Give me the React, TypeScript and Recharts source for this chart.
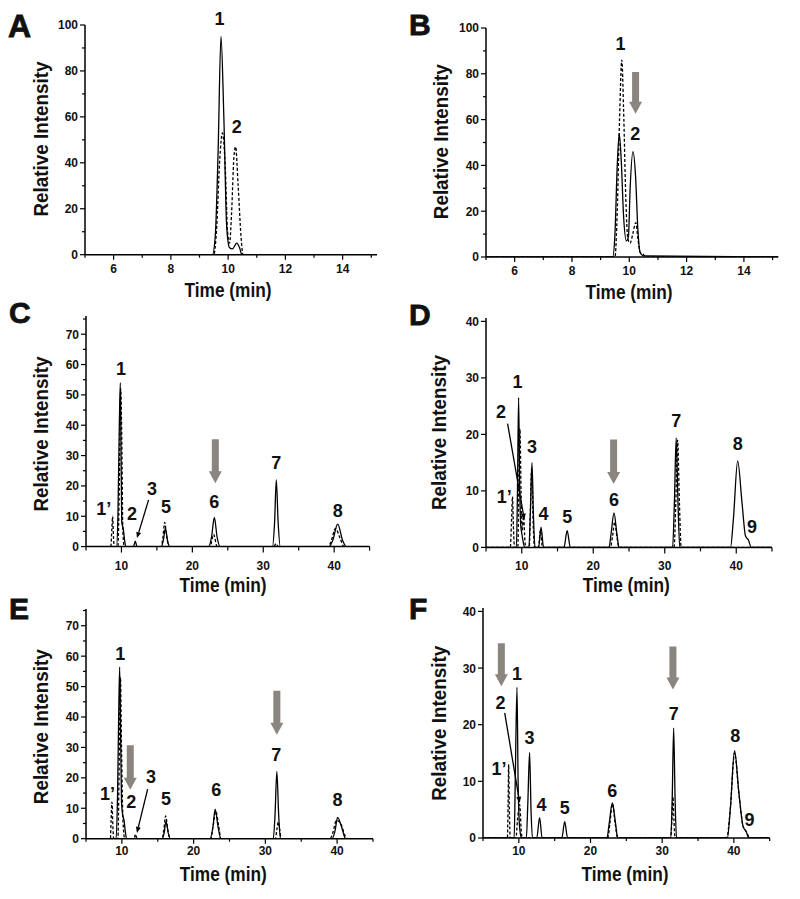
import React from 'react';
import { LineChart, Line, XAxis, YAxis, ReferenceDot, ReferenceLine } from 'recharts';

type Pt = [number, number];
type Lbl = { t: number; v: number; s: string };
type Seg = [number, number, number, number];

// ---------- Panel A ----------
const solidA: Pt[] = [[5,0],[9.45,0],[9.55,8],[9.65,45],[9.75,95],[9.85,60],[9.95,12],[10.05,3],[10.15,2.5],[10.3,5],[10.4,3],[10.48,0],[15.2,0]];
const dashedA: Pt[] = [[5,0],[9.5,0],[9.6,12],[9.7,40],[9.8,53],[9.9,38],[9.98,10],[10.05,5],[10.12,18],[10.2,42],[10.26,47],[10.35,30],[10.45,8],[10.52,0],[15.2,0]];
const labelsA: Lbl[] = [{ t: 9.7, v: 100, s: '1' }, { t: 10.3, v: 53, s: '2' }];

// ---------- Panel B ----------
const solidB: Pt[] = [[5,0],[9.42,0],[9.5,10],[9.58,40],[9.65,54],[9.72,42],[9.8,18],[9.9,7],[9.97,9],[10.03,30],[10.13,46],[10.22,35],[10.3,12],[10.38,2],[10.5,0.5],[15.2,0]];
const dashedB: Pt[] = [[5,0],[9.5,0],[9.58,20],[9.66,60],[9.74,86],[9.8,65],[9.88,25],[9.95,8],[10.03,6],[10.12,10],[10.23,15],[10.3,8],[10.38,2],[10.5,1],[10.58,0],[15.2,0]];
const labelsB: Lbl[] = [{ t: 9.69, v: 90.3, s: '1' }, { t: 10.21, v: 51, s: '2' }];
const arrowsB: Seg[] = [[10.22, 80.8, 10.22, 62.6]];

// ---------- Panel C ----------
const solidC: Pt[] = [[5,0],[9.3,0],[9.5,10],[9.7,40],[9.84,54],[9.95,30],[10.05,8],[10.25,6],[10.45,2],[10.6,0],[11.7,0],[11.95,1.8],[12.2,0],[15.6,0],[15.9,2],[16.2,6],[16.5,2],[16.8,0],[22.3,0],[22.7,3],[23.1,9.6],[23.5,3],[23.9,0],[31.3,0],[31.6,8],[31.84,22],[32.1,8],[32.4,0],[39.3,0],[39.8,2],[40.5,7.4],[41.2,2],[41.7,0],[45,0]];
const dashedC: Pt[] = [[5,0],[8.5,0],[8.65,6],[8.76,10],[8.88,3],[9.0,0],[9.5,0],[9.7,20],[9.9,52],[10.05,35],[10.2,5],[10.4,0],[15.6,0],[15.85,3],[16.1,8],[16.4,3],[16.7,0],[22.5,0],[23.0,4],[23.5,0],[31.5,0],[31.8,1],[32.1,0],[39.2,0],[39.6,2],[40.2,6],[40.8,3],[41.4,0],[45,0]];
const labelsC: Lbl[] = [{ t: 9.93, v: 56.6, s: '1' }, { t: 7.5, v: 10.4, s: '1’' }, { t: 11.5, v: 8.8, s: '2' }, { t: 14.3, v: 17, s: '3' }, { t: 16.3, v: 11.2, s: '5' }, { t: 23.1, v: 12.6, s: '6' }, { t: 31.84, v: 25.5, s: '7' }, { t: 40.5, v: 9.9, s: '8' }];
const leadersC: Seg[] = [[13.83, 15.4, 12.19, 2.8]];
const arrowsC: Seg[] = [[23.24, 35.4, 23.24, 20.9]];

// ---------- Panel D ----------
const solidD: Pt[] = [[5,0],[9.25,0],[9.4,10],[9.56,26.5],[9.7,12],[9.85,4],[10.0,2.5],[10.2,1],[10.4,0],[11.0,0],[11.2,6],[11.43,15],[11.65,5],[11.85,0],[12.35,0],[12.7,3.6],[13.05,0],[15.9,0],[16.35,2.95],[16.8,0],[22.2,0],[22.5,2.5],[22.9,6.1],[23.3,2.5],[23.6,0],[31.1,0],[31.35,8],[31.6,19.4],[31.85,8],[32.1,0],[39.2,0],[39.6,5],[40.2,15.3],[40.8,8],[41.3,2],[41.7,1.3],[42.1,0],[45,0]];
const dashedD: Pt[] = [[5,0],[8.4,0],[8.55,4],[8.71,9],[8.85,3],[9.0,0],[9.45,0],[9.6,12],[9.75,21],[9.9,10],[10.05,3],[10.26,5.5],[10.45,1],[10.6,0],[11.05,0],[11.2,6],[11.38,14],[11.6,4],[11.8,0],[12.35,0],[12.6,3],[12.9,0],[22.4,0],[22.7,2],[23.0,4.5],[23.3,2],[23.6,0],[31.3,0],[31.55,8],[31.8,19],[32.05,8],[32.3,0],[45,0]];
const labelsD: Lbl[] = [{ t: 9.42, v: 28.2, s: '1' }, { t: 7.1, v: 22.9, s: '2' }, { t: 7.56, v: 7.9, s: '1’' }, { t: 11.43, v: 16.7, s: '3' }, { t: 13.06, v: 4.8, s: '4' }, { t: 16.35, v: 4.3, s: '5' }, { t: 22.9, v: 7.3, s: '6' }, { t: 31.6, v: 21.3, s: '7' }, { t: 40.2, v: 17.2, s: '8' }, { t: 42.2, v: 2.5, s: '9' }];
const leadersD: Seg[] = [[8.02, 21.9, 10.36, 4.9]];
const arrowsD: Seg[] = [[22.85, 19.1, 22.85, 11.2]];

// ---------- Panel E ----------
const solidE: Pt[] = [[5,0],[9.2,0],[9.4,15],[9.55,40],[9.69,56.4],[9.82,35],[9.95,12],[10.1,8],[10.3,6],[10.5,2],[10.65,0],[15.6,0],[15.9,2],[16.15,5.7],[16.45,2],[16.75,0],[22.3,0],[22.7,4],[23.0,9.7],[23.4,4],[23.8,0],[31.1,0],[31.35,8],[31.6,22.1],[31.85,8],[32.1,0],[39.3,0],[39.7,2.5],[40.07,7],[40.6,4],[41.2,0],[45,0]];
const dashedE: Pt[] = [[5,0],[8.4,0],[8.5,6],[8.62,12],[8.75,4],[8.85,0],[9.45,0],[9.6,20],[9.8,53],[9.95,30],[10.15,6],[10.4,0],[11.7,0],[11.9,1.5],[12.1,0],[15.6,0],[15.85,3],[16.1,7.5],[16.4,3],[16.7,0],[22.4,0],[22.7,4],[23.1,9],[23.5,4],[23.8,0],[31.4,0],[31.6,3],[31.8,5.5],[32.0,3],[32.2,0],[39.0,0],[39.4,2],[39.9,6],[40.5,5],[41.1,1],[41.5,0],[45,0]];
const labelsE: Lbl[] = [{ t: 9.78, v: 58.8, s: '1' }, { t: 8.0, v: 12.8, s: '1’' }, { t: 11.3, v: 10.1, s: '2' }, { t: 14.06, v: 18.3, s: '3' }, { t: 16.15, v: 11.2, s: '5' }, { t: 23.16, v: 13.9, s: '6' }, { t: 31.52, v: 25.7, s: '7' }, { t: 40.07, v: 10.6, s: '8' }];
const leadersE: Seg[] = [[13.59, 16.3, 12.1, 1.9]];
const arrowsE: Seg[] = [[11.17, 30.7, 11.17, 16.1], [31.6, 48.6, 31.6, 34.2]];

// ---------- Panel F ----------
const solidF: Pt[] = [[5,0],[9.35,0],[9.5,10],[9.74,26.6],[9.9,10],[10.05,3],[10.25,0.5],[10.4,0],[11.05,0],[11.25,6],[11.5,15.1],[11.7,5],[11.9,0],[12.5,0],[12.9,3.6],[13.25,0],[16.0,0],[16.4,2.9],[16.8,0],[22.3,0],[22.6,2.5],[23.05,6.2],[23.5,2.5],[23.8,0],[31.2,0],[31.4,7],[31.6,19.4],[31.8,7],[32.0,0],[39.1,0],[39.5,5],[40.1,15.4],[40.7,8],[41.3,2],[41.7,1.2],[42.1,0],[45,0]];
const dashedF: Pt[] = [[5,0],[8.4,0],[8.5,6],[8.58,13],[8.68,5],[8.8,0],[9.6,0],[9.8,3],[10.12,5.9],[10.35,1],[10.5,0],[22.4,0],[22.7,2.5],[23.05,6],[23.45,2.5],[23.8,0],[31.2,0],[31.35,3],[31.5,7.3],[31.65,3],[31.8,0],[39.0,0],[39.5,5],[40.1,15],[40.7,8],[41.3,2],[41.8,1],[42.2,0],[45,0]];
const labelsF: Lbl[] = [{ t: 9.74, v: 27.9, s: '1' }, { t: 7.43, v: 22.8, s: '2' }, { t: 7.23, v: 11.2, s: '1’' }, { t: 11.5, v: 16.6, s: '3' }, { t: 13.15, v: 4.7, s: '4' }, { t: 16.4, v: 4.2, s: '5' }, { t: 23.05, v: 7.3, s: '6' }, { t: 31.6, v: 20.9, s: '7' }, { t: 40.2, v: 16.9, s: '8' }, { t: 42.2, v: 2.2, s: '9' }];
const leadersF: Seg[] = [[8.03, 22.1, 10.12, 6.2]];
const arrowsF: Seg[] = [[7.56, 34.4, 7.56, 26.8], [31.5, 33.8, 31.5, 26.2]];

// ---------- Ticks ----------
const xTicksShort = [5, 6, 7, 8, 9, 10, 11, 12, 13, 14, 15];
const xMajorsShort = [6, 8, 10, 12, 14];
const xTicksLong = [5, 10, 15, 20, 25, 30, 35, 40, 45];
const xMajorsLong = [10, 20, 30, 40];
const yTicks100 = [0, 10, 20, 30, 40, 50, 60, 70, 80, 90, 100];
const yMajors100 = [0, 20, 40, 60, 80, 100];
const yTicks75 = [0, 5, 10, 15, 20, 25, 30, 35, 40, 45, 50, 55, 60, 65, 70, 75];
const yMajors75 = [0, 10, 20, 30, 40, 50, 60, 70];
const yTicks40 = [0, 10, 20, 30, 40];

const FONT = '"Liberation Sans", Arial, Helvetica, sans-serif';
const ARROW_GRAY = '#8b857f';

const rows = (pts: Pt[]) => pts.map(([t, v]) => ({ t, v }));

const makeXTick = (majors: number[], dy: number, len: number) => (p: any) => {
  const { x, y, payload } = p;
  const major = majors.includes(payload.value);
  return (
    <g>
      <line x1={x} x2={x} y1={y} y2={y + (major ? len : len - 2)} stroke="#000" strokeWidth={1.2} />
      {major && (
        <text x={x} y={y + dy} textAnchor="middle" fontFamily={FONT} fontWeight="bold" fontSize={12} fill="#111">
          {payload.value}
        </text>
      )}
    </g>
  );
};

const makeYTick = (majors: number[]) => (p: any) => {
  const { x, y, payload } = p;
  const major = majors.includes(payload.value);
  return (
    <g>
      <line x1={x} x2={x - (major ? 5 : 3)} y1={y} y2={y} stroke="#000" strokeWidth={1.2} />
      {major && (
        <text x={x - 7} y={y + 4.5} textAnchor="end" fontFamily={FONT} fontWeight="bold" fontSize={12} fill="#111">
          {payload.value}
        </text>
      )}
    </g>
  );
};

const grayArrow = (p: any) => {
  const { x1, y1, y2 } = p;
  const top = Math.min(y1, y2);
  const tip = Math.max(y1, y2);
  const hw = 3.5, hh = 6.5, hl = 12;
  const cx = x1;
  return (
    <polygon
      points={`${cx - hw},${top} ${cx + hw},${top} ${cx + hw},${tip - hl} ${cx + hh},${tip - hl} ${cx},${tip} ${cx - hh},${tip - hl} ${cx - hw},${tip - hl}`}
      fill={ARROW_GRAY}
    />
  );
};

const leaderArrow = (p: any) => {
  const { x1, y1, x2, y2 } = p;
  const dx = x2 - x1, dy = y2 - y1;
  const L = Math.hypot(dx, dy) || 1;
  const ux = dx / L, uy = dy / L;
  const hl = 6, hw = 2.5;
  const bx = x2 - ux * hl, by = y2 - uy * hl;
  return (
    <g>
      <line x1={x1} y1={y1} x2={bx} y2={by} stroke="#000" strokeWidth={1.3} />
      <polygon points={`${x2},${y2} ${bx - uy * hw},${by + ux * hw} ${bx + uy * hw},${by - ux * hw}`} fill="#000" />
    </g>
  );
};

type PanelProps = {
  left: number; right: number; top: number; bottom: number;
  xDomain: [number, number]; yDomain: [number, number];
  xTicks: number[]; xMajors: number[]; yTicks: number[]; yMajors: number[];
  xDy: number; xLen: number;
  solid: Pt[]; dashed: Pt[]; labels: Lbl[]; leaders?: Seg[]; arrows?: Seg[];
};

const ML = 70, MT = 40, MR = 10, MB = 40;

function Panel(props: PanelProps) {
  const { left, right, top, bottom } = props;
  const w = right - left + ML + MR;
  const h = bottom - top + MT + MB;
  return (
    <div style={{ position: 'absolute', left: left - ML, top: top - MT, width: w, height: h }}>
      <LineChart width={w} height={h} margin={{ top: MT, right: MR, left: 0, bottom: 0 }}>
        <XAxis
          dataKey="t" type="number" domain={props.xDomain} ticks={props.xTicks} interval={0}
          height={MB} tickSize={0} tickMargin={0} tick={makeXTick(props.xMajors, props.xDy, props.xLen)}
          axisLine={{ stroke: '#000', strokeWidth: 1.5 }} allowDataOverflow
        />
        <YAxis
          dataKey="v" type="number" domain={props.yDomain} ticks={props.yTicks} interval={0}
          width={ML} tickSize={0} tickMargin={0} tick={makeYTick(props.yMajors)}
          axisLine={{ stroke: '#000', strokeWidth: 1.5 }} allowDataOverflow
        />
        <Line data={rows(props.dashed)} dataKey="v" type="monotone" stroke="#000" strokeWidth={1.3}
          strokeDasharray="3 2" dot={false} activeDot={false} isAnimationActive={false} />
        <Line data={rows(props.solid)} dataKey="v" type="monotone" stroke="#000" strokeWidth={1.3}
          dot={false} activeDot={false} isAnimationActive={false} />
        {(props.arrows || []).map((a, i) => (
          <ReferenceLine key={'a' + i} segment={[{ x: a[0], y: a[1] }, { x: a[2], y: a[3] }]}
            ifOverflow="visible" shape={grayArrow} />
        ))}
        {(props.leaders || []).map((a, i) => (
          <ReferenceLine key={'l' + i} segment={[{ x: a[0], y: a[1] }, { x: a[2], y: a[3] }]}
            ifOverflow="visible" shape={leaderArrow} />
        ))}
        {props.labels.map((l, i) => (
          <ReferenceDot key={'t' + i} x={l.t} y={l.v} r={0} ifOverflow="visible"
            shape={(p: any) => (
              <text x={p.cx} y={p.cy} textAnchor="middle" fontFamily={FONT} fontWeight="bold" fontSize={18} fill="#111">
                {l.s}
              </text>
            )} />
        ))}
      </LineChart>
    </div>
  );
}

const panelLetters = [
  { s: 'A', x: 8, y: 37, size: 32 },
  { s: 'B', x: 409, y: 35, size: 30 },
  { s: 'C', x: 9, y: 323, size: 30 },
  { s: 'D', x: 409, y: 325, size: 30 },
  { s: 'E', x: 9, y: 619, size: 30 },
  { s: 'F', x: 409, y: 619, size: 30 },
];
const yTitles = [
  { x: 48.3, y: 139 }, { x: 448, y: 141.7 }, { x: 48.3, y: 434 },
  { x: 446, y: 432.5 }, { x: 48.3, y: 726.7 }, { x: 445.5, y: 723.3 },
];
const xTitles = [
  { x: 228, y: 297.3 }, { x: 629, y: 299.3 }, { x: 223, y: 591.5 },
  { x: 626.3, y: 592 }, { x: 223.3, y: 881 }, { x: 625, y: 881 },
];

export default function App() {
  return (
    <div style={{ position: 'absolute', left: 0, top: 0, width: 800, height: 899, background: '#fff', overflow: 'hidden' }}>
      <Panel left={85} right={377} top={25.3} bottom={255} xDomain={[5, 15.2]} yDomain={[0, 100]}
        xTicks={xTicksShort} xMajors={xMajorsShort} yTicks={yTicks100} yMajors={yMajors100} xDy={18} xLen={5}
        solid={solidA} dashed={dashedA} labels={labelsA} />
      <Panel left={485.7} right={778} top={27.7} bottom={256.7} xDomain={[5, 15.2]} yDomain={[0, 100]}
        xTicks={xTicksShort} xMajors={xMajorsShort} yTicks={yTicks100} yMajors={yMajors100} xDy={18.3} xLen={5}
        solid={solidB} dashed={dashedB} labels={labelsB} arrows={arrowsB} />
      <Panel left={85.7} right={369.3} top={316.1} bottom={546.7} xDomain={[5, 45]} yDomain={[0, 76]}
        xTicks={xTicksLong} xMajors={xMajorsLong} yTicks={yTicks75} yMajors={yMajors75} xDy={23.5} xLen={6}
        solid={solidC} dashed={dashedC} labels={labelsC} leaders={leadersC} arrows={arrowsC} />
      <Panel left={485.7} right={771.7} top={318.3} bottom={547.7} xDomain={[5, 45]} yDomain={[0, 40.6]}
        xTicks={xTicksLong} xMajors={xMajorsLong} yTicks={yTicks40} yMajors={yTicks40} xDy={23} xLen={6}
        solid={solidD} dashed={dashedD} labels={labelsD} leaders={leadersD} arrows={arrowsD} />
      <Panel left={85.7} right={372.7} top={609.3} bottom={839} xDomain={[5, 45]} yDomain={[0, 75.5]}
        xTicks={xTicksLong} xMajors={xMajorsLong} yTicks={yTicks75} yMajors={yMajors75} xDy={16} xLen={5}
        solid={solidE} dashed={dashedE} labels={labelsE} leaders={leadersE} arrows={arrowsE} />
      <Panel left={483.3} right={770} top={608.3} bottom={838.3} xDomain={[5, 45]} yDomain={[0, 40.6]}
        xTicks={xTicksLong} xMajors={xMajorsLong} yTicks={yTicks40} yMajors={yTicks40} xDy={16.7} xLen={5}
        solid={solidF} dashed={dashedF} labels={labelsF} leaders={leadersF} arrows={arrowsF} />
      <svg width={800} height={899} style={{ position: 'absolute', left: 0, top: 0, pointerEvents: 'none' }}>
        {panelLetters.map((p) => (
          <text key={p.s} x={p.x} y={p.y} fontFamily={FONT} fontWeight="bold" fontSize={p.size} fill="#111"
            stroke="#111" strokeWidth={0.8}>{p.s}</text>
        ))}
        {yTitles.map((p, i) => (
          <text key={'y' + i} transform={`translate(${p.x},${p.y}) rotate(-90)`} textAnchor="middle"
            fontFamily={FONT} fontWeight="bold" fontSize={20} fill="#111" textLength={155} lengthAdjust="spacingAndGlyphs">
            Relative Intensity
          </text>
        ))}
        {xTitles.map((p, i) => (
          <text key={'x' + i} x={p.x} y={p.y} textAnchor="middle" fontFamily={FONT} fontWeight="bold" fontSize={20}
            fill="#111" textLength={87} lengthAdjust="spacingAndGlyphs">
            Time (min)
          </text>
        ))}
      </svg>
    </div>
  );
}
